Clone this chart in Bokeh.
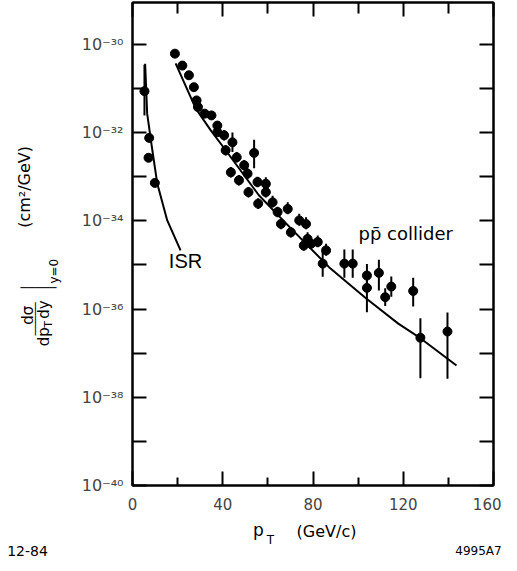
import math
from bokeh.plotting import figure
from bokeh.layouts import row, column
from bokeh.models import (LinearAxis, LogAxis, FixedTicker, CustomJSTickFormatter,
                          Label, Range1d, ColumnDataSource)
from bokeh.embed import file_html
from bokeh.resources import INLINE

# ---------------- data (pT in GeV/c, log10 of cross-section in cm^2/GeV) ----------------
isr_pt = [5.3, 7.4, 7.1, 9.9]
isr_log = [-31.06, -32.12, -32.57, -33.14]
isr_err_up = [0.60, 0.0, 0.0, 0.0]
isr_err_dn = [0.55, 0.0, 0.0, 0.0]

isr_curve_pt = [5.6, 6.5, 8.8, 11.0, 15.4, 21.3]
isr_curve_log = [-30.44, -31.57, -32.40, -33.16, -33.99, -34.67]

col_pt = [18.8, 22.1, 25.0, 27.2, 28.4, 29.0, 32.0, 35.0, 37.6, 37.6,
          40.6, 44.3, 41.3, 53.9, 46.2, 49.5, 43.6, 47.2, 51.0, 55.4,
          59.1, 51.4, 55.7, 59.1, 62.1, 64.3, 68.8, 65.8, 73.9, 76.9,
          70.2, 77.6, 75.9, 79.1, 82.1, 84.3, 85.8, 93.9, 97.6, 103.9,
          103.9, 109.2, 112.0, 114.7, 124.4, 127.6, 139.6]
col_log = [-30.21, -30.48, -30.70, -30.97, -31.27, -31.42, -31.57, -31.61, -31.84, -31.99,
           -32.06, -32.22, -32.40, -32.46, -32.56, -32.74, -32.90, -33.08, -32.93, -33.12,
           -33.16, -33.35, -33.61, -33.35, -33.58, -33.80, -33.73, -34.07, -33.99, -34.07,
           -34.26, -34.41, -34.56, -34.52, -34.48, -34.97, -34.67, -34.97, -34.97, -35.24,
           -35.52, -35.18, -35.73, -35.49, -35.59, -36.65, -36.51]
col_err_up = [0, 0, 0, 0, 0, 0, 0, 0, 0, 0,
              0.12, 0.22, 0.12, 0.30, 0.12, 0.12, 0.12, 0.12, 0.12, 0.12,
              0.15, 0.12, 0.12, 0.12, 0.15, 0.12, 0.15, 0.12, 0.15, 0.15,
              0.12, 0.15, 0.12, 0.12, 0.15, 0.30, 0.15, 0.32, 0.32, 0.26,
              0.20, 0.30, 0.20, 0.23, 0.30, 0.44, 0.43]
col_err_dn = [0, 0, 0, 0, 0, 0, 0, 0, 0, 0,
              0.12, 0.22, 0.12, 0.35, 0.12, 0.12, 0.12, 0.12, 0.12, 0.12,
              0.12, 0.12, 0.12, 0.12, 0.12, 0.12, 0.12, 0.12, 0.12, 0.12,
              0.12, 0.12, 0.12, 0.12, 0.12, 0.30, 0.12, 0.32, 0.32, 0.20,
              0.55, 0.40, 0.20, 0.23, 0.35, 0.92, 1.07]

qcd_pt = [19.1, 28.0, 34.7, 41.3, 56.0, 70.2, 87.1, 103.6, 117.8, 127.6, 143.6]
qcd_log = [-30.43, -31.45, -31.95, -32.40, -33.42, -34.17, -35.05, -35.76, -36.33, -36.66, -37.28]

x_major = [0, 40, 80, 120, 160]
x_minor = [20, 60, 100, 140]
y_labelled_exp = [-40, -38, -36, -34, -32, -30]
y_other_exp = [-39, -37, -35, -33, -31]

# ---------------- geometry ----------------
LEFT_W = 70          # strip holding the rotated y title
MAIN_BL = 62         # main figure left border (tick labels)
FRAME_W, FRAME_H = 361, 483
TOP_B, RIGHT_B, BOT_B = 2, 8, 31
MAIN_H = TOP_B + FRAME_H + BOT_B
BOTTOM_H = 563 - MAIN_H
TOTAL_W = LEFT_W + MAIN_BL + FRAME_W + RIGHT_B

X0, X1 = 0, 160
Y0, Y1 = -40.0, -29.05

p = figure(frame_width=FRAME_W, frame_height=FRAME_H, output_backend="svg", toolbar_location=None,
           y_axis_type="log", x_range=Range1d(X0, X1), y_range=Range1d(10 ** Y0, 10 ** Y1),
           min_border_left=MAIN_BL, min_border_right=RIGHT_B, min_border_top=TOP_B,
           min_border_bottom=BOT_B)
p.background_fill_color = "white"
p.border_fill_color = "white"
p.grid.visible = False
p.outline_line_color = "black"
p.outline_line_width = 2

xt = FixedTicker(ticks=x_major, minor_ticks=x_minor)
yt = FixedTicker(ticks=[10.0 ** e for e in y_labelled_exp],
                 minor_ticks=[10.0 ** e for e in y_other_exp])

sup_map = {"0": "\u2070", "1": "\u00b9", "2": "\u00b2", "3": "\u00b3", "4": "\u2074",
           "5": "\u2075", "6": "\u2076", "7": "\u2077", "8": "\u2078", "9": "\u2079", "-": "\u207b"}
yfmt = CustomJSTickFormatter(args=dict(sup=sup_map), code="""
const e = Math.round(Math.log10(tick));
let s = "";
for (const c of String(e)) { s += sup[c]; }
return "10" + s;
""")

def style_axis(ax, tin, minin, show_labels):
    ax.axis_line_width = 2
    ax.axis_line_color = "black"
    ax.major_tick_in = tin
    ax.major_tick_out = 0
    ax.minor_tick_in = minin
    ax.minor_tick_out = 0
    ax.major_tick_line_width = 2
    ax.minor_tick_line_width = 2
    if not show_labels:
        ax.major_label_text_font_size = "1px"
        ax.major_label_text_color = None
        ax.major_label_standoff = 0

xa = p.xaxis[0]
xa.ticker = xt
style_axis(xa, 14, 8, True)
xa.major_label_text_font = "DejaVu Sans"
xa.major_label_text_font_size = "15px"
xa.major_label_standoff = 12

ya = p.yaxis[0]
ya.ticker = yt
ya.formatter = yfmt
style_axis(ya, 14, 14, True)
ya.major_label_text_font = "DejaVu Sans"
ya.major_label_text_font_size = "16px"
ya.major_label_standoff = 9

top = LinearAxis(ticker=xt)
style_axis(top, 14, 11, False)
p.add_layout(top, "above")
right = LogAxis(ticker=yt)
style_axis(right, 14, 14, False)
p.add_layout(right, "right")

# ---------------- marks ----------------
def pw(vals):
    return [10.0 ** v for v in vals]

p.line(isr_curve_pt, pw(isr_curve_log), line_color="black", line_width=2)
p.line(qcd_pt, pw(qcd_log), line_color="black", line_width=2)

isr_src = ColumnDataSource(dict(x=isr_pt, y=pw(isr_log),
                                lo=pw([a - b for a, b in zip(isr_log, isr_err_dn)]),
                                hi=pw([a + b for a, b in zip(isr_log, isr_err_up)])))
col_src = ColumnDataSource(dict(x=col_pt, y=pw(col_log),
                                lo=pw([a - b for a, b in zip(col_log, col_err_dn)]),
                                hi=pw([a + b for a, b in zip(col_log, col_err_up)])))
for src in (isr_src, col_src):
    p.segment(x0="x", y0="lo", x1="x", y1="hi", source=src, line_color="black", line_width=2)
    p.scatter(x="x", y="y", source=src, size=9, fill_color="black", line_color="black")

# in-plot annotations (positions given in picture pixels)
PX_PER_X = FRAME_W / (X1 - X0)
PX_PER_DEC = FRAME_H / (Y1 - Y0)
FRAME_LEFT = LEFT_W + MAIN_BL
FRAME_BOTTOM = TOP_B + FRAME_H

def in_plot_label(text, px, py, size, font="DejaVu Sans", align="center"):
    p.add_layout(Label(x=X0 + (px - FRAME_LEFT) / PX_PER_X,
                       y=10 ** (Y0 + (FRAME_BOTTOM - py) / PX_PER_DEC),
                       text=text, text_font=font, text_font_size=f"{size}px",
                       text_align=align, text_baseline="middle", text_color="black"))

in_plot_label("ISR", 185, 260, 20, font="Liberation Sans")
in_plot_label("pp\u0304 collider", 358, 233, 18, align="left")

# ---------------- helper strips for outer texts ----------------
def strip(w, h):
    f = figure(width=w, height=h, output_backend="svg", toolbar_location=None,
               x_range=Range1d(0, w), y_range=Range1d(0, h),
               x_axis_location=None, y_axis_location=None, min_border=0)
    f.grid.visible = False
    f.outline_line_color = None
    f.background_fill_color = "white"
    f.border_fill_color = "white"
    return f

left = strip(LEFT_W, MAIN_H)
bottom = strip(TOTAL_W, BOTTOM_H)

def slabel(fig, y_top, text, px, py, size, angle=0.0, font="DejaVu Sans"):
    h = fig.height
    fig.add_layout(Label(x=px, y=h - (py - y_top), text=text, angle=angle, text_font=font,
                         text_font_size=f"{size}px", text_align="center",
                         text_baseline="middle", text_color="black"))

R = math.pi / 2
slabel(left, 0, "(cm\u00b2/GeV)", 24, 197, 16, angle=R)
slabel(left, 0, "d\u03c3", 27, 334, 15, angle=R)
slabel(left, 0, "\u2500\u2500\u2500\u2500\u2500", 35, 338, 11, angle=R)
slabel(left, 0, "dp", 43, 357, 15, angle=R)
slabel(left, 0, "T", 48, 344, 11, angle=R)
slabel(left, 0, "dy", 43, 328, 15, angle=R)
slabel(left, 0, "\u2500\u2500\u2500\u2500\u2500", 38, 305, 12)
slabel(left, 0, "y=0", 53, 287, 12, angle=R)

slabel(bottom, MAIN_H, "p", 258, 529, 17)
slabel(bottom, MAIN_H, "T", 270, 539, 12)
slabel(bottom, MAIN_H, "(GeV/c)", 326, 531, 16)
slabel(bottom, MAIN_H, "12-84", 27, 550, 14)
slabel(bottom, MAIN_H, "4995A7", 478, 550, 12)

layout = column(row(left, p, spacing=0), bottom, spacing=0)
open("out.html", "w").write(file_html(layout, INLINE))
